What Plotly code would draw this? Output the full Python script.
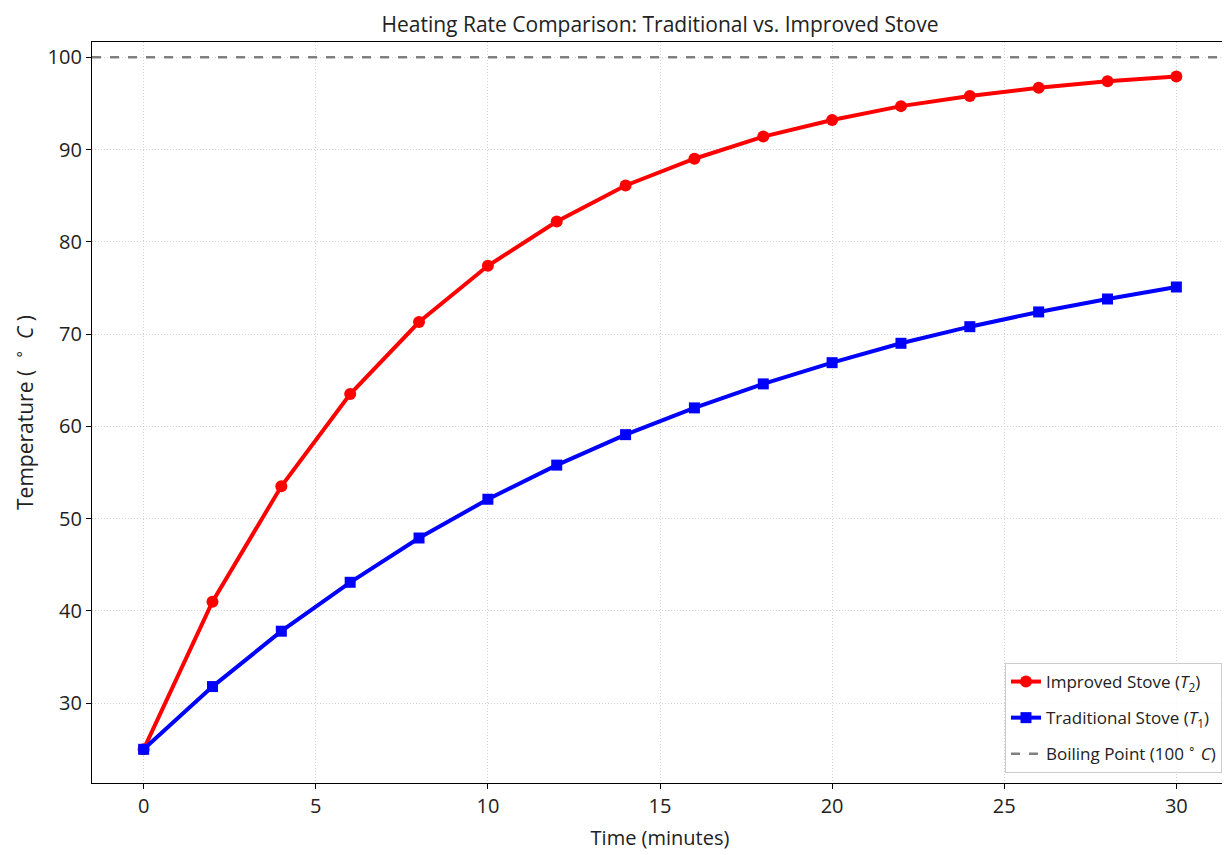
import plotly.graph_objects as go

time_min = [0, 2, 4, 6, 8, 10, 12, 14, 16, 18, 20, 22, 24, 26, 28, 30]
improved_T2 = [25.0, 41.0, 53.5, 63.5, 71.3, 77.4, 82.2, 86.1, 89.0, 91.4, 93.2, 94.7, 95.8, 96.7, 97.4, 97.9]
traditional_T1 = [25.0, 31.8, 37.8, 43.1, 47.9, 52.1, 55.8, 59.1, 62.0, 64.6, 66.9, 69.0, 70.8, 72.4, 73.8, 75.1]
boiling_point = 100
x_ticks = [0, 5, 10, 15, 20, 25, 30]
y_ticks = [30, 40, 50, 60, 70, 80, 90, 100]

FONT = "Open Sans, Lato, sans-serif"
NB = "\u00a0"

fig = go.Figure()
fig.add_trace(go.Scatter(
    x=time_min, y=improved_T2, mode="lines+markers",
    name="Improved Stove (<i>T</i><sub>2</sub>)", legendgroup="a",
    line=dict(color="#ff0000", width=4),
    marker=dict(symbol="circle", size=12, color="#ff0000"),
))
fig.add_trace(go.Scatter(
    x=time_min, y=traditional_T1, mode="lines+markers",
    name="Traditional Stove (<i>T</i><sub>1</sub>)", legendgroup="b",
    line=dict(color="#0000ff", width=4),
    marker=dict(symbol="square", size=11, color="#0000ff"),
))
fig.add_trace(go.Scatter(
    x=[-1.5, 31.5], y=[boiling_point, boiling_point], mode="lines",
    name="Boiling Point (100" + NB + "<sup>∘</sup>" + NB + "<i>C</i>)", legendgroup="c",
    line=dict(color="#808080", width=2.4, dash="dash"),
))

axis_common = dict(
    showline=True, linecolor="black", linewidth=1.3, mirror=True,
    ticks="outside", ticklen=5, tickcolor="black", tickwidth=1.3,
    showgrid=True, gridcolor="#d3d3d3", griddash="1px,2px", gridwidth=1,
    zeroline=False, automargin=False,
    tickfont=dict(size=20, color="#222222", family=FONT),
)

fig.update_layout(
    width=1222, height=847,
    paper_bgcolor="white", plot_bgcolor="white",
    margin=dict(l=84, r=2, t=34, b=72),
    font=dict(family=FONT, color="#222222"),
    title=dict(text="Heating Rate Comparison: Traditional vs. Improved Stove",
               x=0.5, xanchor="center", xref="paper", y=1.0, yref="container",
               yanchor="top", pad=dict(t=9, b=0, l=0, r=0), automargin=False,
               font=dict(size=21, family=FONT, color="#222222")),
    xaxis=dict(range=[-1.5, 31.5], tickvals=x_ticks,
               title=dict(text="Time (minutes)", font=dict(size=20, family=FONT), standoff=12),
               **axis_common),
    yaxis=dict(range=[21.35, 101.65], tickvals=y_ticks,
               title=dict(text="Temperature (" + NB * 2 + "<sup>∘</sup>" + NB * 2 + "<i>C</i>" + NB + ")",
                          font=dict(size=21, family=FONT), standoff=18),
               **axis_common),
    legend=dict(x=0.9947, y=0.0135, xanchor="right", yanchor="bottom",
                bgcolor="rgba(255,255,255,0.85)", bordercolor="#cccccc", borderwidth=1,
                font=dict(size=17, family=FONT, color="#222222"), tracegroupgap=11),
    showlegend=True,
)

fig.write_html("out.html")
